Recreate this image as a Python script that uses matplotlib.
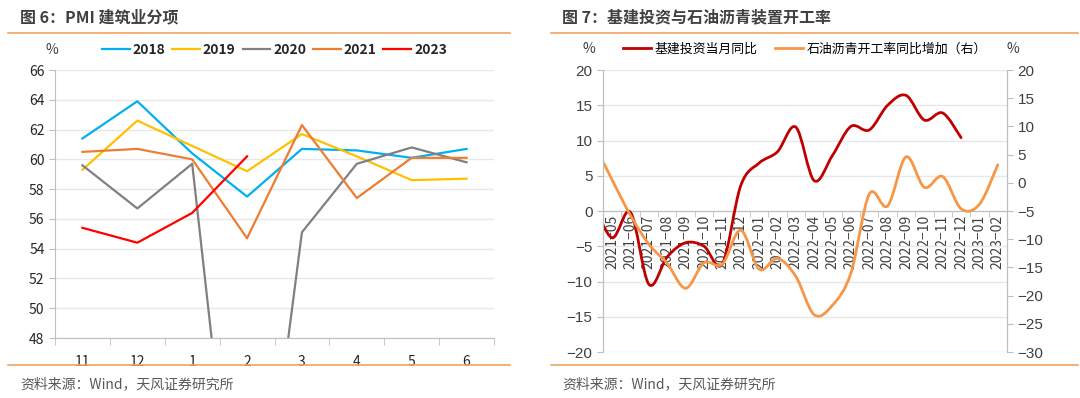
import numpy as np
import matplotlib
matplotlib.use("Agg")
import matplotlib.pyplot as plt
from matplotlib.path import Path
from matplotlib.patches import PathPatch
from matplotlib.lines import Line2D

plt.rcParams['font.family'] = ['Noto Sans CJK SC', 'DejaVu Sans']
plt.rcParams['axes.unicode_minus'] = True

# ============================== Data: PMI 建筑业 ==============================
months_pmi = ['11', '12', '1', '2', '3', '4', '5', '6']
pmi_2018 = [61.4, 63.9, 60.4, 57.5, 60.7, 60.6, 60.1, 60.7]
pmi_2019 = [59.3, 62.6, 60.9, 59.2, 61.7, 60.2, 58.6, 58.7]
pmi_2020 = [59.6, 56.7, 59.7, 26.6, 55.1, 59.7, 60.8, 59.8]
pmi_2021 = [60.5, 60.7, 60.0, 54.7, 62.3, 57.4, 60.1, 60.1]
pmi_2023 = [55.4, 54.4, 56.4, 60.2]

# ============================== Data: 基建 / 沥青 =============================
# first value (2021-04) sits just left of the visible range
months_inf = ['2021-04', '2021-05', '2021-06', '2021-07', '2021-08', '2021-09', '2021-10',
              '2021-11', '2021-12', '2022-01', '2022-02', '2022-03', '2022-04',
              '2022-05', '2022-06', '2022-07', '2022-08', '2022-09', '2022-10',
              '2022-11', '2022-12', '2023-01', '2023-02']
infra_yoy = [1.0, -3.8, -0.2, -10.4, -6.5, -4.5, -5.0, -7.5, 3.6, 6.8, 8.4, 11.9,
             4.3, 7.9, 12.0, 11.5, 15.0, 16.4, 12.9, 13.9, 10.4]
asphalt_yoy = [7.0, 0.5, -5.8, -10.9, -14.3, -18.7, -14.2, -14.4, -8.4, -15.3, -13.4,
               -16.6, -23.4, -21.7, -16.0, -2.0, -4.1, 4.6, -0.8, 1.1, -4.6, -3.8, 3.2]

# ============================== Style =========================================
C_LINE = '#F4A460'
C_GRID = '#E8E8E8'
C_AXIS = '#BFBFBF'
C_TEXT = '#404040'


def smooth(ax, trans, x, y, color, lw):
    # Excel-like smoothed line: Catmull-Rom segments as cubic Beziers
    p = np.column_stack([x, y]).astype(float)
    n = len(p)
    verts = [p[0]]
    codes = [Path.MOVETO]
    for i in range(n - 1):
        p0 = p[i - 1] if i > 0 else p[i]
        p3 = p[i + 2] if i + 2 < n else p[i + 1]
        c1 = p[i] + (p[i + 1] - p0) / 6.0
        c2 = p[i + 1] - (p3 - p[i]) / 6.0
        verts += [c1, c2, p[i + 1]]
        codes += [Path.CURVE4] * 3
    patch = PathPatch(Path(verts, codes), fill=False, edgecolor=color, lw=lw,
                      transform=trans, capstyle='round', joinstyle='round')
    ax.add_patch(patch)
    return patch


fig = plt.figure(figsize=(10.8, 3.98), dpi=100)

# titles, separator lines, sources
fig.text(20 / 1080, 1 - 17 / 398, '图 6：PMI 建筑业分项', fontsize=11.5, fontweight='bold',
         color=C_TEXT, va='center')
fig.text(562 / 1080, 1 - 17 / 398, '图 7：基建投资与石油沥青装置开工率', fontsize=11.5,
         fontweight='bold', color=C_TEXT, va='center')
for x0, x1 in [(8, 510), (551, 1078)]:
    for yy in [33, 365]:
        fig.add_artist(Line2D([x0 / 1080, x1 / 1080], [1 - yy / 398, 1 - yy / 398],
                              color=C_LINE, lw=1.2))
fig.text(20 / 1080, 1 - 384 / 398, '资料来源：Wind，天风证券研究所', fontsize=10,
         color='#595959', va='center')
fig.text(562 / 1080, 1 - 384 / 398, '资料来源：Wind，天风证券研究所', fontsize=10,
         color='#595959', va='center')

# ============================== Left chart ====================================
ax1 = fig.add_axes([55 / 1080, 1 - 338 / 398, 439 / 1080, 268 / 398])
xi = np.arange(len(months_pmi))
series = [('2018', pmi_2018, '#00B0F0'), ('2019', pmi_2019, '#FFC000'),
          ('2020', pmi_2020, '#808080'), ('2021', pmi_2021, '#ED7D31'),
          ('2023', pmi_2023, '#FF0000')]
for name, vals, col in series:
    ax1.plot(xi[:len(vals)], vals, color=col, lw=1.6, label=name)
ax1.set_xlim(-0.5, len(months_pmi) - 0.5)
ax1.set_ylim(48, 66)
ax1.set_yticks(np.arange(48, 67, 2))
ax1.set_xticks(xi)
ax1.set_xticklabels(months_pmi)
ax1.set_xticks(np.arange(-0.5, len(months_pmi)), minor=True)
ax1.tick_params(axis='x', which='major', length=0, pad=12, labelsize=10, labelcolor='#262626')
ax1.tick_params(axis='x', which='minor', length=5, color=C_AXIS)
ax1.tick_params(axis='y', length=4, color=C_AXIS, labelsize=10, labelcolor='#262626')
ax1.grid(axis='y', color=C_GRID, lw=1)
ax1.set_axisbelow(True)
for s in ['top', 'right']:
    ax1.spines[s].set_visible(False)
for s in ['left', 'bottom']:
    ax1.spines[s].set_color(C_AXIS)
leg1 = ax1.legend(loc='center', bbox_to_anchor=(0.5, 1.075), ncol=5, frameon=False,
                  handlelength=2.0, handletextpad=0.2, columnspacing=0.5,
                  prop={'weight': 'bold', 'size': 10})
for t in leg1.get_texts():
    t.set_color('#262626')
ax1.text(-0.007, 1.075, '%', transform=ax1.transAxes, ha='center', va='center',
         fontsize=10, color='#404040')

# ============================== Right chart ===================================
ax2 = fig.add_axes([603 / 1080, 1 - 352 / 398, 404 / 1080, 282 / 398])
ax3 = ax2.twinx()
ax2.set_xlim(-0.5, len(months_inf) - 1.5)
ax2.set_ylim(-20, 20)
ax3.set_ylim(-30, 20)
xm = np.arange(len(months_inf)) - 1
# both lines sit on the upper (twin) axes so they cover the date labels
smooth(ax3, ax2.transData, xm[:len(infra_yoy)], infra_yoy, '#C00000', 2.0)
smooth(ax3, ax3.transData, xm, asphalt_yoy, '#F79646', 2.0)
ax2.set_yticks(np.arange(-20, 21, 5))
ax3.set_yticks(np.arange(-30, 21, 5))
ax2.set_xticks(xm[1:])
ax2.set_xticklabels([m.replace('-', '\u2212') for m in months_inf[1:]])
ax2.set_xticks(np.arange(-0.5, len(months_inf) - 1), minor=True)
ax2.tick_params(axis='x', which='major', length=0, pad=3, labelsize=10,
                labelcolor='#404040', labelrotation=90)
ax2.tick_params(axis='x', which='minor', length=4, color=C_AXIS, direction='out')
for lab in ax2.get_xticklabels():
    lab.set_fontfamily('Liberation Sans')
    lab.set_verticalalignment('top')
    lab.set_horizontalalignment('center')
ax2.spines['bottom'].set_position(('data', 0))
ax3.spines['bottom'].set_visible(False)
for a in (ax2, ax3):
    a.tick_params(axis='y', length=4, color=C_AXIS, labelsize=11, labelcolor='#404040')
    for lab in a.get_yticklabels():
        lab.set_fontfamily('Liberation Sans')
    a.spines['top'].set_visible(False)
    for s in ['left', 'right', 'bottom']:
        a.spines[s].set_color(C_AXIS)
ax2.grid(axis='y', color=C_GRID, lw=1)
ax2.set_axisbelow(True)

h_inf = Line2D([], [], color='#C00000', lw=2.0)
h_asp = Line2D([], [], color='#F79646', lw=2.0)
ax2.legend([h_inf, h_asp], ['基建投资当月同比', '石油沥青开工率同比增加（右）'],
           loc='center', bbox_to_anchor=(0.5, 1.075), ncol=2, frameon=False,
           handlelength=2.2, handletextpad=0.3, columnspacing=1.3,
           prop={'size': 9.3, 'weight': 'medium'})
ax2.text(-0.02, 1.075, '%', transform=ax2.transAxes, ha='right', va='center',
         fontsize=10, color='#404040')
ax2.text(1.0, 1.075, '%', transform=ax2.transAxes, ha='left', va='center',
         fontsize=10, color='#404040')

fig.savefig('out.png', dpi=100)
